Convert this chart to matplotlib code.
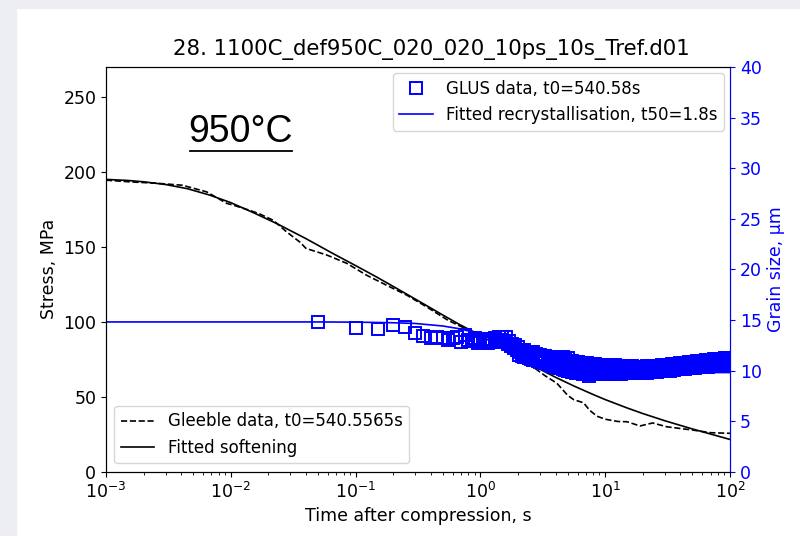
import numpy as np
import matplotlib.pyplot as plt
from matplotlib.patches import Rectangle
from matplotlib.lines import Line2D

plt.rcParams['font.size'] = 12.5

# ------------------------------------------------------------
# Gleeble stress data (dashed) and fitted softening (solid)
# ------------------------------------------------------------
gleeble_t = [0.001, 0.0016, 0.0025, 0.0041, 0.0064, 0.0093, 0.0105, 0.014, 0.017,
             0.0218, 0.028, 0.036, 0.040, 0.059, 0.085, 0.123, 0.176, 0.257, 0.37,
             0.55, 0.8, 1.0, 1.5, 2.0, 2.63, 3.3, 4.1, 5.0, 5.6, 6.7, 7.5, 8.6, 10.0,
             12.6, 15.0, 19.0, 24.0, 31.0, 40.0, 50.0, 70.0, 100.0]
gleeble_s = [194.5, 193.3, 192.5, 191.1, 186.7, 179.0, 177.8, 174.5, 172.0,
             167.8, 160.0, 153.0, 149.0, 144.5, 139.0, 131.0, 124.5, 117.8, 110.0,
             101.0, 94.5, 90.0, 82.0, 76.0, 70.0, 64.0, 59.0, 51.0, 48.0, 46.0, 41.0,
             37.0, 35.0, 33.5, 33.3, 30.5, 32.5, 30.0, 28.8, 27.8, 26.0, 25.6]

soft_t = [0.001, 0.0015, 0.002, 0.003, 0.0045, 0.0068, 0.01, 0.015, 0.0234, 0.04,
          0.066, 0.1, 0.148, 0.227, 0.35, 0.5, 0.687, 1.0, 1.5, 2.0, 2.82, 4.0,
          5.6, 8.0, 10.0, 15.0, 20.0, 30.0, 50.0, 70.0, 100.0]
soft_s = [195.0, 194.3, 193.4, 191.6, 188.8, 184.5, 179.5, 173.0, 165.5, 155.5,
          145.5, 137.5, 129.8, 121.0, 112.0, 104.5, 98.0, 91.0, 82.4, 76.4, 69.5, 63.0,
          57.2, 51.5, 48.1, 42.5, 38.8, 34.0, 28.5, 25.1, 21.5]

# ------------------------------------------------------------
# GLUS grain size data (squares) and fitted recrystallisation
# ------------------------------------------------------------
glus_t = [0.05, 0.10, 0.15, 0.20, 0.25, 0.30, 0.35, 0.40, 0.45, 0.50,
          0.55, 0.60, 0.65, 0.70, 0.75, 0.80, 0.85, 0.90, 0.95, 1.00,
          1.05, 1.10, 1.15, 1.20, 1.25, 1.30, 1.35, 1.40, 1.45, 1.50,
          1.55, 1.60, 1.65, 1.70, 1.75, 1.80, 1.85, 1.90, 1.95, 2.00]
glus_d = [14.8, 14.2, 14.1, 14.45, 14.3, 13.7, 13.4, 13.2, 13.3, 13.2,
          13.05, 13.25, 13.3, 12.85, 13.5, 13.0, 12.9, 13.2, 12.7, 13.1,
          12.8, 13.0, 12.75, 13.1, 12.9, 13.2, 12.8, 13.35, 13.0, 13.3,
          12.9, 13.3, 12.6, 12.9, 12.4, 12.6, 12.2, 12.5, 12.0, 12.3]

# dense part of the GLUS record: upper edge, middle and lower edge of the band
band_t = [2.05, 2.15, 2.25, 2.35, 2.45, 2.55, 2.65, 2.8, 2.9, 3.0,
          3.15, 3.3, 3.45, 3.6, 3.75, 3.9, 4.05, 4.2, 4.4, 4.6,
          4.8, 5.0, 5.2, 5.4, 5.6, 5.85, 6.1, 6.35, 6.6, 6.85,
          7.1, 7.4, 7.7, 8.0, 8.35, 8.7, 9.05, 9.4, 9.8, 10.2,
          10.6, 11.0, 11.5, 12.0, 12.5, 13.0, 13.5, 14.0, 14.6, 15.2,
          15.8, 16.4, 17.0, 17.7, 18.4, 19.1, 19.9, 20.7, 21.5, 22.4,
          23.3, 24.2, 25.2, 26.2, 27.2, 28.3, 29.4, 30.6, 31.8, 33.0,
          34.3, 35.7, 37.1, 38.6, 40.1, 41.7, 43.4, 45.1, 46.9, 48.8,
          50.7, 52.7, 54.8, 57.0, 59.3, 61.7, 64.1, 66.7, 69.3, 72.1,
          75.0, 78.0, 81.1, 84.3, 87.7, 91.2, 94.8, 98.6]
band_hi = [12.05, 11.95, 12.0, 11.85, 11.8, 11.75, 11.8, 11.6, 11.55, 11.5,
           11.45, 11.4, 11.35, 11.25, 11.3, 11.15, 11.1, 11.1, 11.05, 11.3,
           11.0, 11.2, 10.95, 10.9, 10.85, 10.85, 10.8, 10.75, 10.75, 10.7,
           10.7, 10.65, 10.65, 10.6, 10.6, 10.55, 10.55, 10.5, 10.55, 10.5,
           10.5, 10.45, 10.45, 10.5, 10.4, 10.45, 10.4, 10.4, 10.35, 10.4,
           10.35, 10.4, 10.35, 10.35, 10.35, 10.3, 10.35, 10.35, 10.4, 10.35,
           10.4, 10.4, 10.45, 10.45, 10.45, 10.5, 10.5, 10.5, 10.55, 10.55,
           10.6, 10.6, 10.65, 10.65, 10.7, 10.7, 10.75, 10.75, 10.8, 10.8,
           10.85, 10.85, 10.9, 10.9, 10.95, 10.95, 11.0, 11.0, 11.05, 11.05,
           11.1, 11.1, 11.1, 11.15, 11.15, 11.2, 11.2, 11.25]
band_mid = [11.8, 11.75, 11.6, 11.6, 11.45, 11.5, 11.35, 11.35, 11.2, 11.25,
            11.05, 11.1, 10.9, 10.95, 10.8, 10.85, 10.65, 10.75, 10.55, 10.7,
            10.45, 10.6, 10.4, 10.5, 10.3, 10.4, 10.25, 10.35, 10.15, 10.3,
            10.1, 10.2, 10.1, 10.2, 10.05, 10.15, 10.05, 10.15, 10.05, 10.15,
            10.05, 10.15, 10.05, 10.15, 10.0, 10.15, 10.0, 10.1, 10.0, 10.15,
            10.0, 10.15, 10.05, 10.1, 10.0, 10.1, 10.0, 10.15, 10.05, 10.15,
            10.05, 10.2, 10.1, 10.25, 10.15, 10.25, 10.15, 10.3, 10.2, 10.35,
            10.25, 10.4, 10.3, 10.45, 10.35, 10.5, 10.4, 10.55, 10.45, 10.55,
            10.5, 10.6, 10.55, 10.65, 10.6, 10.7, 10.6, 10.75, 10.65, 10.8,
            10.7, 10.8, 10.75, 10.85, 10.8, 10.9, 10.85, 10.9]
band_lo = [11.55, 11.45, 11.35, 11.3, 11.2, 11.15, 11.05, 11.0, 10.9, 10.85,
           10.8, 10.7, 10.6, 10.5, 10.45, 10.4, 10.3, 10.25, 10.2, 10.15,
           10.05, 10.0, 9.95, 9.9, 9.9, 9.8, 9.8, 9.75, 9.7, 9.7,
           9.65, 9.5, 9.7, 9.65, 9.7, 9.65, 9.7, 9.65, 9.7, 9.7,
           9.75, 9.7, 9.75, 9.7, 9.75, 9.75, 9.7, 9.75, 9.75, 9.8,
           9.75, 9.8, 9.8, 9.75, 9.8, 9.8, 9.8, 9.85, 9.8, 9.85,
           9.85, 9.9, 9.9, 9.9, 9.95, 9.95, 9.95, 10.0, 10.0, 10.0,
           10.05, 10.05, 10.1, 10.1, 10.1, 10.15, 10.15, 10.2, 10.2, 10.2,
           10.25, 10.25, 10.3, 10.3, 10.3, 10.35, 10.35, 10.35, 10.4, 10.4,
           10.4, 10.45, 10.45, 10.45, 10.5, 10.5, 10.5, 10.55]

rex_t = [0.001, 0.01, 0.05, 0.1, 0.2, 0.3, 0.5, 0.7, 1.0, 1.4, 1.8, 2.5, 3.5,
         5.0, 7.0, 10.0, 20.0, 100.0]
rex_d = [14.8, 14.8, 14.8, 14.78, 14.72, 14.65, 14.4, 14.1, 13.6, 12.9, 12.3,
         11.4, 10.7, 10.2, 9.95, 9.85, 9.8, 9.8]

# ============================================================
fig = plt.figure(figsize=(8, 5.36), dpi=100)

# light grey screenshot border
fig.add_artist(Rectangle((0, 0), 0.02, 1, transform=fig.transFigure,
                         color="#eceef1", zorder=-10))
fig.add_artist(Rectangle((0, 0.985), 1, 0.015, transform=fig.transFigure,
                         color="#eceef1", zorder=-10))

ax1 = fig.add_axes([0.1325, 0.12, 0.78, 0.755])
ax1.plot(gleeble_t, gleeble_s, "k--", lw=1.2, label="Gleeble data, t0=540.5565s")
ax1.plot(soft_t, soft_s, "k-", lw=1.2, label="Fitted softening")
ax1.set_xscale("log")
ax1.set_xlim(1e-3, 1e2)
ax1.set_ylim(0, 270)
ax1.set_yticks([0, 50, 100, 150, 200, 250])
ax1.set_xlabel("Time after compression, s")
ax1.set_ylabel("Stress, MPa")
ax1.set_title("28. 1100C_def950C_020_020_10ps_10s_Tref.d01", fontsize=15.35,
              pad=9, x=0.521)
ax1.legend(loc="lower left", fontsize=12)

ax2 = ax1.twinx()
sq = dict(ls="none", marker="s", mfc="none", mec="blue", ms=8.5, mew=1.4)
ax2.plot(glus_t, glus_d, label="GLUS data, t0=540.58s", **sq)
ax2.plot(band_t, band_hi, **sq)
ax2.plot(band_t, band_mid, **sq)
ax2.plot(band_t, band_lo, **sq)
ax2.plot(rex_t, rex_d, "-", color="blue", lw=1.2,
         label="Fitted recrystallisation, t50=1.8s")
ax2.set_ylim(0, 40)
ax2.set_ylabel("Grain size, µm", color="blue")
ax2.tick_params(axis="y", colors="blue")
ax2.spines["right"].set_color("blue")
ax2.legend(loc="upper right", fontsize=12, borderaxespad=0.35)

# temperature annotation
fig.text(241 / 800, 1 - 132 / 536, "950°C", ha="center", va="center",
         fontsize=27, family=["Liberation Sans", "DejaVu Sans"])
fig.add_artist(Line2D([190 / 800, 292 / 800], [1 - 151 / 536] * 2,
                      color="black", lw=1.3))

plt.savefig("out.png", dpi=100)
